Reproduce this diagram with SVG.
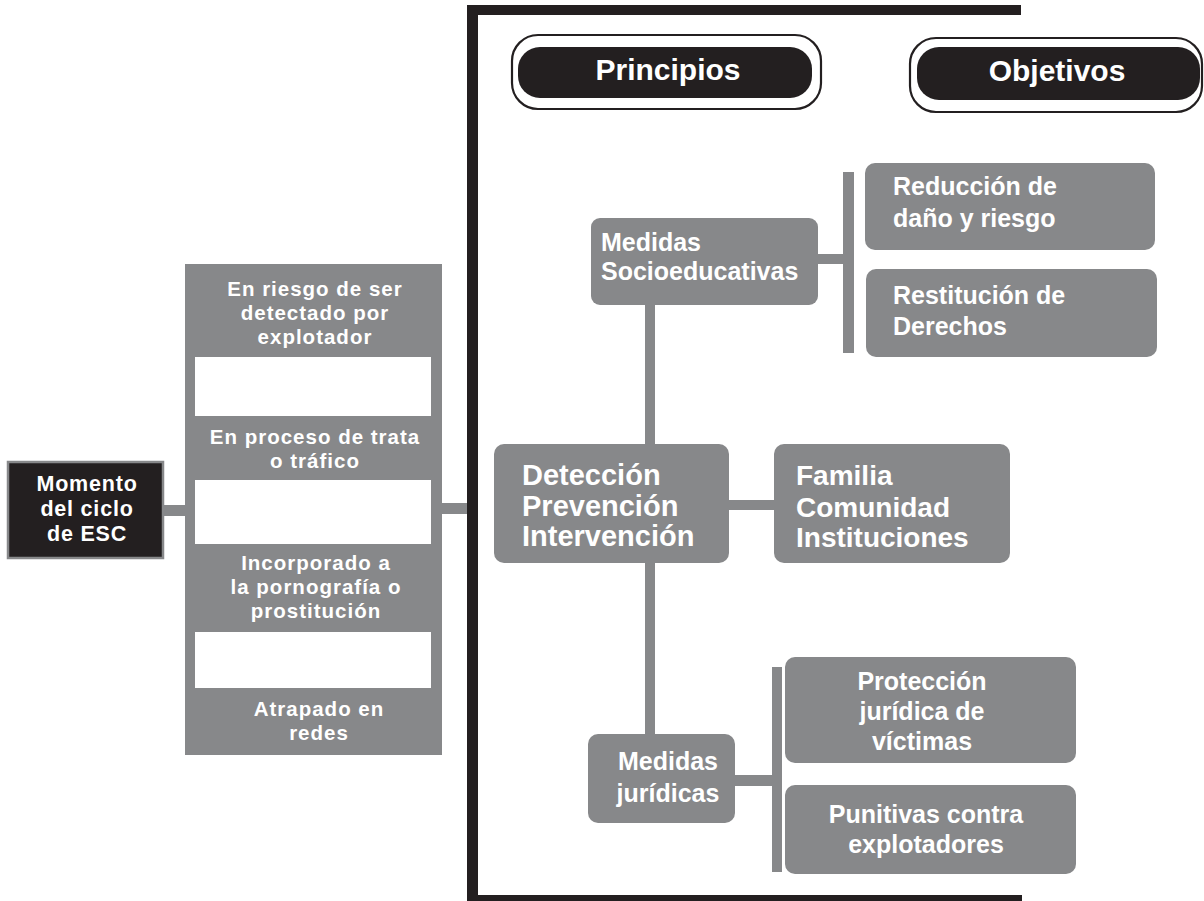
<svg xmlns="http://www.w3.org/2000/svg" width="1204" height="901" viewBox="0 0 1204 901">
<style>
.g{fill:#87888a}
.bk{fill:#231f20}
.t{font-family:"Liberation Sans",Arial,sans-serif;font-weight:bold;fill:#ffffff}
.c{text-anchor:middle}
.s21{font-size:20.5px;letter-spacing:1px}
.s22{font-size:21.5px;letter-spacing:0.8px}
.s25{font-size:25px}
.s28{font-size:28px}
.s29{font-size:29px}
.s30{font-size:30px}
.po{fill:#ffffff;stroke:#231f20;stroke-width:2.2}
</style>
<rect width="1204" height="901" fill="#ffffff"/>

<g id="connectors">
  <rect class="g" x="163" y="505" width="24" height="11"/>
  <rect class="g" x="441" y="503" width="28" height="11"/>
  <rect class="g" x="645" y="300" width="10" height="148"/>
  <rect class="g" x="645" y="560" width="10" height="178"/>
  <rect class="g" x="816" y="254" width="30" height="10"/>
  <rect class="g" x="843" y="172" width="11" height="181"/>
  <rect class="g" x="727" y="500" width="50" height="10"/>
  <rect class="g" x="733" y="775" width="42" height="11"/>
  <rect class="g" x="772" y="667" width="10" height="205"/>
</g>

<g id="frame">
  <rect class="bk" x="467" y="5" width="11" height="900"/>
  <rect class="bk" x="467" y="5" width="554" height="10"/>
  <rect class="bk" x="467" y="895" width="555" height="10"/>
</g>

<g id="momento">
  <rect x="8" y="462" width="155" height="96" class="bk" stroke="#87888a" stroke-width="2.5"/>
  <text class="t s22 c" x="87" y="491">Momento</text>
  <text class="t s22 c" x="87" y="516">del ciclo</text>
  <text class="t s22 c" x="87" y="541">de ESC</text>
</g>

<g id="etapas">
  <rect class="g" x="185" y="264" width="257" height="491"/>
  <rect x="195" y="357" width="236" height="59" fill="#ffffff"/>
  <rect x="195" y="480" width="236" height="64" fill="#ffffff"/>
  <rect x="195" y="632" width="236" height="56" fill="#ffffff"/>
  <text class="t s21 c" x="315" y="296">En riesgo de ser</text>
  <text class="t s21 c" x="315" y="320">detectado por</text>
  <text class="t s21 c" x="315" y="344">explotador</text>
  <text class="t s21 c" x="315" y="444">En proceso de trata</text>
  <text class="t s21 c" x="315" y="468">o tráfico</text>
  <text class="t s21 c" x="316" y="570">Incorporado a</text>
  <text class="t s21 c" x="316" y="594">la pornografía o</text>
  <text class="t s21 c" x="316" y="618">prostitución</text>
  <text class="t s21 c" x="319" y="716">Atrapado en</text>
  <text class="t s21 c" x="319" y="740">redes</text>
</g>

<g id="principios">
  <rect class="po" x="512" y="35" width="309" height="74" rx="26"/>
  <rect class="bk" x="518" y="47" width="294" height="51" rx="22"/>
  <text class="t s30 c" x="668" y="80">Principios</text>
</g>

<g id="objetivos">
  <rect class="po" x="910" y="38" width="292" height="74" rx="26"/>
  <rect class="bk" x="917" y="47" width="283" height="53" rx="22"/>
  <text class="t s30 c" x="1057" y="81">Objetivos</text>
</g>

<g id="socioeducativas">
  <rect class="g" x="591" y="218" width="227" height="87" rx="9"/>
  <text class="t s25" x="601" y="251">Medidas</text>
  <text class="t s25" x="601" y="280">Socioeducativas</text>
</g>

<g id="reduccion">
  <rect class="g" x="865" y="163" width="290" height="87" rx="10"/>
  <text class="t s25" x="893" y="195">Reducción de</text>
  <text class="t s25" x="893" y="227">daño y riesgo</text>
</g>

<g id="restitucion">
  <rect class="g" x="866" y="269" width="291" height="88" rx="10"/>
  <text class="t s25" x="893" y="304">Restitución de</text>
  <text class="t s25" x="893" y="335">Derechos</text>
</g>

<g id="deteccion">
  <rect class="g" x="494" y="444" width="235" height="119" rx="10"/>
  <text class="t s29" x="522" y="485">Detección</text>
  <text class="t s29" x="522" y="516">Prevención</text>
  <text class="t s29" x="522" y="546">Intervención</text>
</g>

<g id="familia">
  <rect class="g" x="774" y="444" width="236" height="119" rx="10"/>
  <text class="t s28" x="796" y="485">Familia</text>
  <text class="t s28" x="796" y="517">Comunidad</text>
  <text class="t s28" x="796" y="547">Instituciones</text>
</g>

<g id="juridicas">
  <rect class="g" x="588" y="734" width="147" height="89" rx="10"/>
  <text class="t s25 c" x="668" y="770">Medidas</text>
  <text class="t s25 c" x="668" y="802">jurídicas</text>
</g>

<g id="proteccion">
  <rect class="g" x="785" y="657" width="291" height="106" rx="10"/>
  <text class="t s25 c" x="922" y="690">Protección</text>
  <text class="t s25 c" x="922" y="720">jurídica de</text>
  <text class="t s25 c" x="922" y="750">víctimas</text>
</g>

<g id="punitivas">
  <rect class="g" x="785" y="785" width="291" height="89" rx="10"/>
  <text class="t s25 c" x="926" y="823">Punitivas contra</text>
  <text class="t s25 c" x="926" y="853">explotadores</text>
</g>
</svg>
